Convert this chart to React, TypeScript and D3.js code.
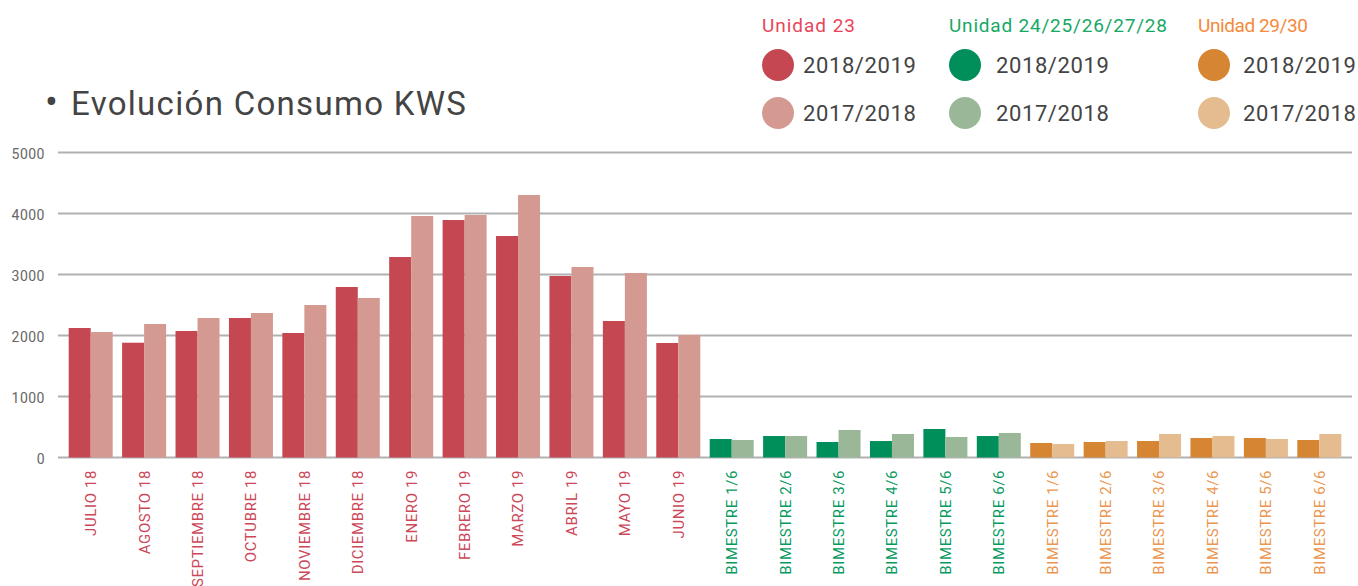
import React from "react";
import * as d3 from "d3";

// categorias del eje x (en orden)
const categories = [
  "JULIO 18", "AGOSTO 18", "SEPTIEMBRE 18", "OCTUBRE 18", "NOVIEMBRE 18", "DICIEMBRE 18",
  "ENERO 19", "FEBRERO 19", "MARZO 19", "ABRIL 19", "MAYO 19", "JUNIO 19",
  "BIMESTRE 1/6", "BIMESTRE 2/6", "BIMESTRE 3/6", "BIMESTRE 4/6", "BIMESTRE 5/6", "BIMESTRE 6/6",
  "BIMESTRE 1/6", "BIMESTRE 2/6", "BIMESTRE 3/6", "BIMESTRE 4/6", "BIMESTRE 5/6", "BIMESTRE 6/6",
];

// unidad de cada categoria
const units = [
  0, 0, 0, 0, 0, 0, 0, 0, 0, 0, 0, 0,
  1, 1, 1, 1, 1, 1,
  2, 2, 2, 2, 2, 2,
];

const values2019 = [
  2123, 1882, 2074, 2287, 2041, 2795, 3287, 3893, 3631, 2975, 2238, 1877,
  303, 352, 254, 270, 467, 352,
  238, 254, 270, 320, 320, 287,
];

const values2018 = [
  2057, 2189, 2287, 2369, 2500, 2615, 3959, 3975, 4303, 3123, 3025, 2008,
  287, 352, 451, 385, 336, 402,
  221, 270, 385, 352, 303, 385,
];

const yTicks = [0, 1000, 2000, 3000, 4000, 5000];

const unitNames = ["Unidad 23", "Unidad 24/25/26/27/28", "Unidad 29/30"];
const seasons = ["2018/2019", "2017/2018"];

const barColors = [
  ["#c44751", "#d49a92"],
  ["#008f5a", "#9ab898"],
  ["#d68532", "#e4bc90"],
];
const labelColors = ["#cc4858", "#079a5f", "#ea9650"];
const headColors = ["#e8445a", "#16a865", "#f58a3c"];

const width = 1358;
const height = 586;
const font = "Roboto, 'DejaVu Sans', sans-serif";

export default function App() {
  const x = d3
    .scaleBand<number>()
    .domain(d3.range(categories.length))
    .range([58, 1352])
    .paddingInner(0.176)
    .paddingOuter(0.2);

  const sub = d3.scaleBand<number>().domain([0, 1]).range([0, x.bandwidth()]);

  const y = d3.scaleLinear().domain([0, 5000]).range([457.5, 152.5]);

  // posicion de cada columna de la leyenda
  const legendX = [762, 949, 1198];
  const legendTextDx = [41, 47, 45];
  const headWidth = [93, 218, 110];

  return (
    <svg
      width={width}
      height={height}
      style={{ position: "absolute", left: 0, top: 0, background: "#fff" }}
      fontFamily={font}
    >
      {/* titulo */}
      <text x={45} y={115} fontSize={38} fill="#444">
        •
      </text>
      <text x={71} y={115} fontSize={33} fill="#444" letterSpacing={1.3}>
        Evolución Consumo KWS
      </text>

      {/* leyenda */}
      {unitNames.map((name, u) => (
        <g key={name} transform={`translate(${legendX[u]},0)`}>
          <text
            x={0}
            y={32}
            fontSize={19}
            fill={headColors[u]}
            textLength={headWidth[u]}
            lengthAdjust="spacing"
          >
            {name}
          </text>
          {seasons.map((s, i) => (
            <g key={s} transform={`translate(0,${65 + i * 48})`}>
              <circle cx={16} cy={0} r={16} fill={barColors[u][i]} />
              <text x={legendTextDx[u]} y={8} fontSize={22} fill="#444" letterSpacing={0.6}>
                {s}
              </text>
            </g>
          ))}
        </g>
      ))}

      {/* rejilla */}
      {yTicks.map((t) => (
        <g key={t}>
          <line x1={58} x2={1352} y1={y(t)} y2={y(t)} stroke="#b1b1b4" strokeWidth={2} />
          <text
            x={45}
            y={y(t) + 3}
            textAnchor="end"
            dominantBaseline="middle"
            fontSize={14}
            fill="#666"
            letterSpacing={0.5}
          >
            {t}
          </text>
        </g>
      ))}

      {/* barras */}
      {categories.map((c, i) => (
        <g key={i} transform={`translate(${x(i)},0)`}>
          {[values2019[i], values2018[i]].map((v, k) => (
            <rect
              key={k}
              x={sub(k)}
              y={y(v)}
              width={sub.bandwidth()}
              height={y(0) - y(v)}
              fill={barColors[units[i]][k]}
            />
          ))}
        </g>
      ))}

      {/* etiquetas eje x */}
      {categories.map((c, i) => (
        <text
          key={i}
          transform={`translate(${(x(i) ?? 0) + x.bandwidth() / 2},470) rotate(-90)`}
          textAnchor="end"
          dy="0.36em"
          fontSize={15}
          fill={labelColors[units[i]]}
          letterSpacing={0.6}
        >
          {c}
        </text>
      ))}
    </svg>
  );
}
